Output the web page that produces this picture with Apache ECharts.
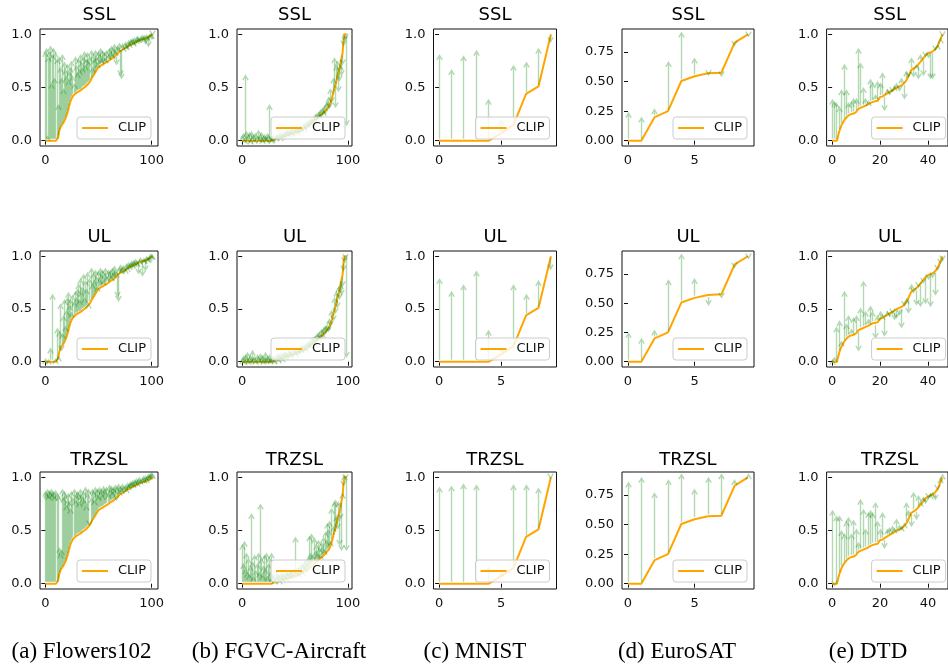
<!DOCTYPE html>
<html>
<head>
<meta charset="utf-8">
<script src="https://cdn.jsdelivr.net/npm/echarts@6/dist/echarts.min.js"></script>
<style>html,body{margin:0;padding:0;background:#fff}#c{width:948px;height:669px}</style>
</head>
<body>
<div id="c"></div>
<script>
// ---------------- DATA ----------------
const rowTitles = ['SSL', 'UL', 'TRZSL'];
const captions = ['(a) Flowers102', '(b) FGVC-Aircraft', '(c) MNIST', '(d) EuroSAT', '(e) DTD'];
const legendName = 'CLIP';

const yTicks = [0, 0.5, 1.0];
const yTicksEuro = [0, 0.25, 0.5, 0.75];
const xTicksFlowers = [0, 100];
const xTicksAircraft = [0, 100];
const xTicksMnist = [0, 5];
const xTicksEuro = [0, 5];
const xTicksDtd = [0, 20, 40];

// Flowers102 (102 classes, sorted by CLIP accuracy)
const flowersClip = [0,0,0,0,0,0,0,0,0,0,0,0,
  0.03,0.09,0.12,0.14,0.15,0.17,0.19,0.21,0.24,0.27,
  0.31,0.35,0.38,0.40,0.42,0.43,0.44,0.45,0.455,0.46,
  0.465,0.47,0.48,0.49,0.495,0.50,0.51,0.52,0.53,0.54,
  0.555,0.575,0.595,0.61,0.625,0.64,0.66,0.675,0.69,0.70,
  0.705,0.71,0.715,0.72,0.73,0.735,0.74,0.75,0.755,0.76,
  0.77,0.775,0.78,0.79,0.80,0.81,0.82,0.83,0.84,0.845,
  0.85,0.86,0.865,0.87,0.875,0.88,0.89,0.895,0.90,0.905,
  0.91,0.915,0.92,0.925,0.93,0.935,0.94,0.945,0.95,0.95,
  0.955,0.96,0.96,0.965,0.97,0.975,0.98,0.99,0.995,1.0];
const flowersSSL = [0.85,0.88,0.05,0.80,0.85,0.90,0.55,0.82,0.88,0.60,0.84,0.78,
  0.35,0.80,0.70,0.60,0.82,0.50,0.75,0.68,0.62,0.73,
  0.58,0.66,0.70,0.76,0.62,0.55,0.80,0.72,0.65,0.78,
  0.68,0.82,0.75,0.70,0.80,0.85,0.72,0.78,0.84,0.76,
  0.80,0.86,0.70,0.82,0.78,0.86,0.80,0.74,0.85,0.82,
  0.88,0.78,0.86,0.80,0.84,0.78,0.86,0.82,0.88,0.85,
  0.90,0.82,0.88,0.92,0.85,0.70,0.90,0.88,0.93,0.60,
  0.57,0.92,0.88,0.94,0.90,0.86,0.95,0.92,0.96,0.95,
  0.97,0.93,0.98,0.90,0.96,0.99,0.97,0.93,0.98,1.00,
  0.97,0.99,0.90,1.00,0.98,0.87,1.00,1.00,1.00,0.99];
const flowersUL = [0.03,0.0,0.0,0.02,0.0,0.14,0.0,0.65,0.0,0.0,0.03,0.33,
  0.05,0.30,0.56,0.10,0.28,0.45,0.60,0.35,0.50,0.62,
  0.67,0.55,0.60,0.48,0.64,0.58,0.68,0.62,0.70,0.75,
  0.60,0.80,0.68,0.72,0.84,0.62,0.78,0.70,0.86,0.55,
  0.80,0.90,0.75,0.85,0.78,0.88,0.82,0.72,0.87,0.80,
  0.90,0.84,0.88,0.78,0.85,0.90,0.82,0.88,0.85,0.88,
  0.82,0.90,0.86,0.92,0.88,0.85,0.60,0.56,0.90,0.93,
  0.88,0.90,0.92,0.88,0.94,0.90,0.95,0.92,0.94,0.96,
  0.93,0.97,0.95,0.98,0.96,0.94,0.82,0.97,0.99,0.80,
  0.98,0.97,0.85,1.00,0.99,0.98,1.00,1.02,1.02,1.01];
const flowersTRZSL = [0.88,0.86,0.90,0.85,0.89,0.87,0.90,0.86,0.88,0.84,0.89,0.86,
  0.84,0.35,0.30,0.33,0.90,0.82,0.88,0.85,0.75,0.80,
  0.86,0.78,0.72,0.88,0.82,0.90,0.80,0.85,0.88,0.86,
  0.78,0.90,0.85,0.82,0.88,0.80,0.92,0.75,0.86,0.90,
  0.55,0.82,0.90,0.88,0.80,0.92,0.86,0.90,0.84,0.92,
  0.88,0.90,0.85,0.93,0.90,0.88,0.92,0.86,0.94,0.90,
  0.93,0.88,0.92,0.90,0.94,0.78,0.92,0.95,0.88,0.93,
  0.90,0.95,0.92,0.94,0.90,0.96,0.93,0.95,0.97,0.96,
  0.98,0.95,0.99,0.97,1.00,0.96,0.99,1.01,0.98,1.00,
  1.02,0.99,1.03,1.00,1.02,1.04,1.03,1.04,1.05,1.04];

// FGVC-Aircraft (100 classes)
const aircraftClip = [0,0,0,0,0,0,0,0,0,0,0,0,0,0,0,0,0,0,0,0,0,0,0,0,0,0,0,0,0,
  0.005,0.01,0.012,0.015,0.02,0.022,0.025,0.03,0.032,0.035,
  0.04,0.042,0.045,0.048,0.05,0.053,0.056,0.06,0.063,0.067,
  0.07,0.073,0.077,0.08,0.085,0.09,0.095,0.10,0.105,0.11,
  0.115,0.12,0.13,0.135,0.14,0.15,0.16,0.17,0.18,0.19,
  0.20,0.21,0.215,0.22,0.23,0.24,0.25,0.255,0.26,0.275,
  0.29,0.30,0.31,0.32,0.34,0.37,0.40,0.44,0.48,0.51,
  0.55,0.60,0.64,0.66,0.66,0.78,0.82,0.95,1.0,1.0,1.0];
const aircraftSSL = [0.05,0.08,0.02,0.63,0.10,0.03,0.06,0.09,0.01,0.10,0.04,0.07,0.02,0.08,0.05,0.11,0.03,0.06,0.09,0.02,0.05,0.07,0.04,0.03,0.08,0.06,0.35,0.04,0.02,
  0.03,0.06,0.00,0.05,0.08,0.02,0.07,0.04,0.09,0.06,
  0.02,0.08,0.10,0.04,0.09,0.12,0.05,0.10,0.08,0.13,
  0.06,0.11,0.14,0.09,0.13,0.07,0.15,0.12,0.09,0.16,
  0.13,0.18,0.10,0.17,0.20,0.14,0.19,0.22,0.15,0.23,
  0.18,0.26,0.20,0.27,0.24,0.30,0.22,0.31,0.28,0.34,
  0.25,0.36,0.38,0.42,0.30,0.50,0.35,0.60,0.79,0.30,
  0.72,0.76,0.45,0.55,0.72,0.60,0.70,0.88,0.92,0.95,0.13];
const aircraftUL = [0.03,0.06,0.02,0.08,0.04,0.10,0.02,0.05,0.07,0.03,0.12,0.04,0.06,0.02,0.08,0.05,0.03,0.09,0.04,0.07,0.02,0.05,0.10,0.03,0.06,0.04,0.08,0.03,0.05,
  0.04,0.07,0.02,0.06,0.09,0.03,0.08,0.05,0.10,0.04,
  0.08,0.11,0.06,0.09,0.04,0.10,0.12,0.07,0.11,0.05,
  0.12,0.09,0.14,0.06,0.12,0.15,0.08,0.14,0.17,0.10,
  0.16,0.13,0.19,0.11,0.18,0.21,0.13,0.20,0.24,0.16,
  0.25,0.19,0.28,0.23,0.29,0.20,0.32,0.27,0.33,0.25,
  0.35,0.28,0.36,0.28,0.42,0.33,0.50,0.38,0.62,0.45,
  0.68,0.50,0.72,0.58,0.75,0.62,0.70,0.85,0.93,0.97,0.03];
const aircraftTRZSL = [0.38,0.20,0.41,0.15,0.30,0.12,0.25,0.10,0.18,0.67,0.22,0.08,0.28,0.14,0.20,0.30,0.12,0.76,0.25,0.10,0.18,0.28,0.15,0.30,0.08,0.20,0.26,0.12,0.30,
  0.08,0.10,0.05,0.12,0.07,0.10,0.04,0.09,0.12,0.06,
  0.10,0.08,0.13,0.07,0.12,0.10,0.14,0.09,0.13,0.11,
  0.15,0.45,0.12,0.16,0.10,0.17,0.14,0.20,0.12,0.19,
  0.22,0.16,0.24,0.20,0.26,0.46,0.30,0.48,0.28,0.44,
  0.32,0.38,0.30,0.42,0.35,0.28,0.40,0.36,0.45,0.33,
  0.50,0.42,0.58,0.52,0.60,0.40,0.72,0.55,0.78,0.80,
  0.65,0.50,0.78,0.35,0.60,0.30,0.85,0.92,1.02,0.98,0.30];

// MNIST (10 classes)
const mnistClip  = [0,0,0,0,0,0.07,0.15,0.44,0.51,1.0];
const mnistSSL   = [0.82,0.68,0.81,0.86,0.40,0.21,0.72,0.75,0.88,0.91];
const mnistUL    = [0.80,0.68,0.74,0.87,0.31,0.15,0.74,0.65,0.78,0.86];
const mnistTRZSL = [0.92,0.93,0.95,0.94,0.17,0.12,0.94,0.94,0.91,0.99];

// EuroSAT (10 classes)
const euroClip  = [0,0,0.2,0.25,0.505,0.545,0.57,0.575,0.83,0.9];
const euroSSL   = [0.25,0.21,0.28,0.68,0.93,0.71,0.555,0.54,0.80,0.88];
const euroUL    = [0.26,0.21,0.28,0.71,0.93,0.72,0.47,0.54,0.80,0.88];
const euroTRZSL = [0.87,0.91,0.78,0.89,0.94,0.81,0.91,0.94,0.89,0.93];

// DTD (47 classes)
const dtdClip = [0,0,0,0.09,0.15,0.19,0.22,0.24,0.25,0.255,
  0.27,0.30,0.31,0.32,0.33,0.34,0.355,0.365,0.37,0.375,
  0.41,0.415,0.43,0.445,0.46,0.47,0.485,0.50,0.51,0.52,
  0.54,0.57,0.615,0.665,0.68,0.695,0.72,0.745,0.775,0.805,
  0.82,0.83,0.84,0.86,0.89,0.945,1.0];
const dtdSSL = [0.40,0.38,0.37,0.33,0.49,0.73,0.49,0.37,0.38,0.41,
  0.41,0.88,0.74,0.51,0.41,0.38,0.59,0.555,0.445,0.57,
  0.555,0.65,0.27,0.49,0.43,0.46,0.52,0.545,0.46,0.60,
  0.38,0.665,0.60,0.79,0.585,0.71,0.57,0.82,0.60,0.79,
  0.775,0.57,0.57,0.85,0.90,0.96,0.98];
const dtdUL = [0.02,0.05,0.34,0.40,0.20,0.68,0.37,0.45,0.32,0.43,
  0.45,0.09,0.52,0.775,0.49,0.415,0.54,0.49,0.21,0.45,
  0.49,0.45,0.23,0.48,0.43,0.46,0.385,0.40,0.43,0.31,
  0.53,0.60,0.45,0.745,0.65,0.525,0.71,0.51,0.745,0.54,
  0.775,0.51,0.79,0.62,0.87,0.93,0.95];
const dtdTRZSL = [0.70,-0.02,0.65,0.65,0.51,0.48,0.60,0.635,0.48,0.61,
  0.525,0.40,0.805,0.71,0.525,0.68,0.70,0.68,0.775,0.60,
  0.525,0.68,0.32,0.525,0.54,0.555,0.525,0.62,0.555,0.54,
  0.57,0.775,0.70,0.525,0.87,0.59,0.84,0.775,0.82,0.745,
  0.805,0.84,0.855,0.775,0.885,1.0,1.03];

// ---------------- LAYOUT / STYLE ----------------
const datasets = [
  {clip: flowersClip, rows: [flowersSSL, flowersUL, flowersTRZSL], xTicks: xTicksFlowers, yTicks: yTicks},
  {clip: aircraftClip, rows: [aircraftSSL, aircraftUL, aircraftTRZSL], xTicks: xTicksAircraft, yTicks: yTicks},
  {clip: mnistClip, rows: [mnistSSL, mnistUL, mnistTRZSL], xTicks: xTicksMnist, yTicks: yTicks},
  {clip: euroClip, rows: [euroSSL, euroUL, euroTRZSL], xTicks: xTicksEuro, yTicks: yTicksEuro},
  {clip: dtdClip, rows: [dtdSSL, dtdUL, dtdTRZSL], xTicks: xTicksDtd, yTicks: yTicks}
];
datasets.forEach((d, i) => d.rows.forEach((r, j) => {
  if (r.length !== d.clip.length) throw new Error('length mismatch col ' + i + ' row ' + j + ': ' + r.length + ' vs ' + d.clip.length);
}));

const colLayout = [
  {left: 40, width: 118, yDec: 1},
  {left: 237, width: 115, yDec: 1},
  {left: 433.5, width: 123, yDec: 1},
  {left: 622, width: 132, yDec: 2},
  {left: 826.6, width: 126, yDec: 1}
];
const rowLayout = [{top: 29, height: 117, titleY: 15}, {top: 251, height: 116, titleY: 237}, {top: 472, height: 117, titleY: 460}];
const captionX = [81.5, 279, 475, 677, 868];

function niceRange(vals) {
  const mn = Math.min(...vals), mx = Math.max(...vals);
  const m = (mx - mn) * 0.05;
  return [mn - m, mx + m];
}

const FONT = '"DejaVu Sans", sans-serif';
const grids = [], xAxes = [], yAxes = [], series = [], legends = [], graphics = [];

function renderArrow(params, api) {
  const x = api.value(0), a = api.value(1), b = api.value(2);
  const p0 = api.coord([x, a]), p1 = api.coord([x, b]);
  const dy = p1[1] - p0[1];
  const len = Math.abs(dy);
  if (len < 0.5) return null;
  const dir = dy > 0 ? 1 : -1;
  const shrink = Math.min(2, len / 4);
  const sy = p0[1] + dir * shrink, ey = p1[1] - dir * shrink;
  const hl = 4.5, hw = 2.7;
  const px = Math.round(p0[0] - 0.5) + 0.5;
  const d = 'M' + px + ' ' + sy + 'L' + px + ' ' + ey +
            'M' + (px - hw) + ' ' + (ey - dir * hl) + 'L' + px + ' ' + ey + 'L' + (px + hw) + ' ' + (ey - dir * hl);
  return {type: 'path', shape: {pathData: d},
    style: {fill: 'none', stroke: 'rgba(0,128,0,0.3)', lineWidth: 1.4}};
}

let idx = 0;
datasets.forEach((ds, c) => {
  const cl = colLayout[c];
  const n = ds.clip.length;
  const xr = [-(n - 1) * 0.05, (n - 1) * 1.05];
  const yr = niceRange(ds.clip);
  rowLayout.forEach((rl, r) => {
    grids.push({left: cl.left, top: rl.top, width: cl.width, height: rl.height,
      show: true, borderColor: '#111', borderWidth: 1, backgroundColor: 'transparent', containLabel: false});
    xAxes.push({type: 'value', gridIndex: idx, min: xr[0], max: xr[1],
      splitLine: {show: false}, axisLine: {show: false},
      axisTick: {show: true, length: 4, customValues: ds.xTicks, lineStyle: {color: '#111', width: 1}},
      axisLabel: {customValues: ds.xTicks, margin: 8, color: '#111', fontSize: 13, fontFamily: FONT,
        formatter: v => String(Math.round(v))}});
    yAxes.push({type: 'value', gridIndex: idx, min: yr[0], max: yr[1],
      splitLine: {show: false}, axisLine: {show: false},
      axisTick: {show: true, length: 4, customValues: ds.yTicks, lineStyle: {color: '#111', width: 1}},
      axisLabel: {customValues: ds.yTicks, margin: 8, color: '#111', fontSize: 13, fontFamily: FONT,
        formatter: v => Number(v).toFixed(cl.yDec)}});
    series.push({type: 'line', name: legendName, xAxisIndex: idx, yAxisIndex: idx,
      data: ds.clip.map((v, i) => [i, v]), symbol: 'none', showSymbol: false,
      lineStyle: {color: '#FFA500', width: 2}, itemStyle: {color: '#FFA500'}, z: 2, silent: true});
    series.push({type: 'custom', name: 'arrows', xAxisIndex: idx, yAxisIndex: idx,
      data: ds.clip.map((v, i) => [i, v, ds.rows[r][i]]), renderItem: renderArrow,
      encode: {x: 0, y: [1, 2]}, clip: false, z: 3, silent: true});
    legends.push({data: [{name: legendName, icon: 'rect'}], left: cl.left + cl.width - 6 - 75, top: rl.top + rl.height - 7 - 22,
      itemWidth: 26, itemHeight: 2, padding: [4, 5, 4, 5], itemGap: 0,
      itemStyle: {color: '#FFA500'},
      backgroundColor: 'rgba(255,255,255,0.8)', borderColor: '#ccc', borderWidth: 1, borderRadius: 3,
      selectedMode: false, z: 5,
      textStyle: {fontSize: 13, fontFamily: FONT, color: '#111', padding: [0, 0, 0, 5], lineHeight: 14}});
    graphics.push({type: 'text', x: cl.left + cl.width / 2, y: rl.titleY, z: 10,
      style: {text: rowTitles[r], font: '18px ' + FONT, fill: '#000', textAlign: 'center', textVerticalAlign: 'middle', verticalAlign: 'middle'}});
    idx++;
  });
  graphics.push({type: 'text', x: captionX[c], y: 652, z: 10,
    style: {text: captions[c], font: '23px "Liberation Serif", "Times New Roman", serif', fill: '#000', textAlign: 'center', textVerticalAlign: 'middle', verticalAlign: 'middle'}});
});

const chart = echarts.init(document.getElementById('c'), null, {renderer: 'canvas'});
chart.setOption({
  animation: false,
  backgroundColor: '#fff',
  grid: grids,
  xAxis: xAxes,
  yAxis: yAxes,
  legend: legends,
  series: series,
  graphic: graphics
});
</script>
</body>
</html>
